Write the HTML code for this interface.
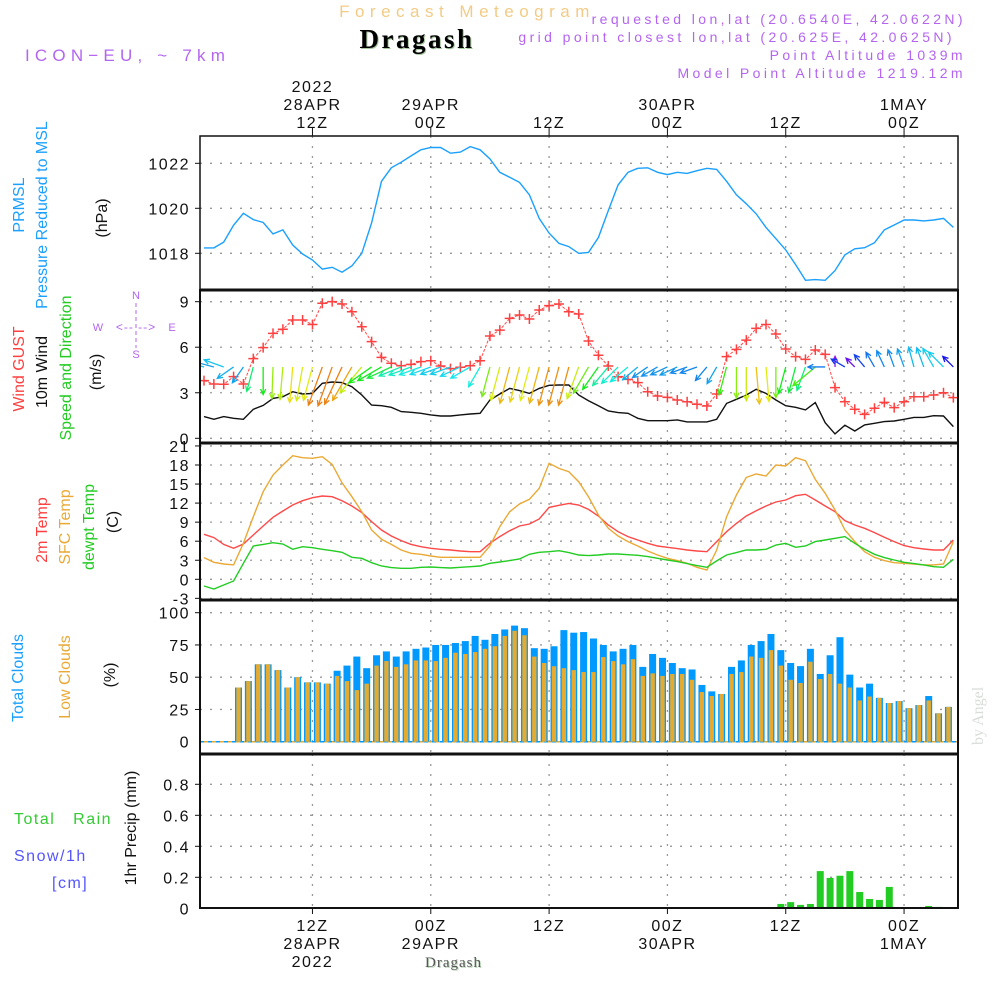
<!DOCTYPE html>
<html><head><meta charset="utf-8"><style>
html,body{margin:0;padding:0;background:#fff;}
svg{display:block;font-family:"Liberation Sans",sans-serif;}
.t{font-size:16px;fill:#111;letter-spacing:1.5px;}
</style></head><body>
<svg id="svg" width="1000" height="1000" viewBox="0 0 1000 1000" xmlns="http://www.w3.org/2000/svg">
<text x="467" y="17" text-anchor="middle" font-size="17" fill="#f3cb86" letter-spacing="5.5">Forecast Meteogram</text>
<text x="418" y="49" text-anchor="middle" font-size="27" font-weight="bold" font-family="Liberation Serif,serif" fill="#a8c8a0" letter-spacing="2.5">Dragash</text>
<text x="417" y="48" text-anchor="middle" font-size="27" font-weight="bold" font-family="Liberation Serif,serif" fill="#000" letter-spacing="2.5">Dragash</text>
<text x="25" y="61" font-size="17" fill="#b465f0" letter-spacing="5.2">ICON−EU, ~ 7km</text>
<g font-size="14" fill="#b465f0" text-anchor="end" letter-spacing="3.4">
<text x="966" y="24">requested lon,lat (20.6540E, 42.0622N)</text>
<text x="955" y="42">grid point closest lon,lat (20.625E, 42.0625N)</text>
<text x="966" y="60">Point Altitude 1039m</text>
<text x="966" y="78">Model Point Altitude 1219.12m</text>
</g>
<g id="grid"></g>
<g id="plots"></g>
<g id="frames"></g>
<g id="labels"></g>
<text transform="translate(983,745) rotate(-90)" font-size="16" font-family="Liberation Serif,serif" fill="#d8ddd8">by Angel</text>
</svg>
<script>
// ---- data (hourly from 01Z 28APR) ----
const pressure=[1018.24,1018.24,1018.5,1019.25,1019.78,1019.5,1019.37,1018.86,1019.04,1018.37,1017.97,1017.7,1017.3,1017.38,1017.16,1017.44,1018.0,1019.35,1021.2,1021.8,1022.05,1022.33,1022.6,1022.7,1022.7,1022.45,1022.5,1022.74,1022.6,1022.2,1021.6,1021.38,1021.15,1020.6,1019.55,1018.9,1018.44,1018.3,1018.0,1018.04,1018.7,1019.9,1021.04,1021.6,1021.78,1021.8,1021.6,1021.5,1021.6,1021.55,1021.67,1021.78,1021.73,1021.2,1020.6,1020.2,1019.75,1019.15,1018.65,1018.15,1017.5,1016.8,1016.83,1016.8,1017.23,1017.93,1018.2,1018.25,1018.47,1019.04,1019.26,1019.48,1019.48,1019.44,1019.48,1019.55,1019.15];
const gust=[3.8,3.58,3.56,4.06,3.58,5.25,5.97,6.91,7.18,7.79,7.79,7.5,8.9,9.0,8.85,8.34,7.35,6.37,5.33,4.94,4.78,4.87,5.05,5.11,4.76,4.59,4.68,4.78,5.11,6.74,7.13,7.9,8.12,7.86,8.45,8.74,8.85,8.34,8.19,6.41,5.47,4.76,4.06,3.88,3.67,3.07,2.79,2.7,2.52,2.41,2.24,2.13,2.92,5.38,5.86,6.47,7.24,7.5,6.87,5.88,5.38,5.2,5.82,5.53,3.34,2.41,1.91,1.58,1.98,2.37,2.02,2.41,2.74,2.74,2.85,3.0,2.68];
const wind10=[1.43,1.25,1.43,1.32,1.25,1.91,2.17,2.63,2.74,3.07,2.92,2.96,3.62,3.71,3.67,3.4,2.85,2.19,2.15,2.04,1.76,1.71,1.65,1.54,1.47,1.47,1.54,1.6,1.65,2.52,2.92,3.29,3.14,2.96,3.29,3.49,3.51,3.51,2.85,2.48,2.15,1.8,1.69,1.65,1.32,1.16,1.16,1.16,1.21,1.08,1.08,1.08,1.25,2.3,2.57,2.85,3.23,2.96,2.52,2.15,2.04,1.87,2.35,1.03,0.29,0.86,0.48,0.88,0.99,1.1,1.14,1.25,1.38,1.38,1.49,1.47,0.77];
const windFrom=[105,105,110,55,35,15,0,2,5,5,10,15,20,20,25,30,40,55,60,65,68,70,70,70,70,70,65,60,30,15,15,15,15,15,15,15,15,15,20,30,35,40,45,50,50,55,60,65,65,70,70,40,30,15,0,0,355,355,0,15,15,20,50,90,180,120,135,140,150,155,160,160,165,160,150,135,135];
const temp2m=[7.08,6.56,5.5,4.88,5.56,6.98,8.4,9.76,10.76,11.7,12.38,12.85,13.12,13.0,12.38,11.54,10.5,9.08,7.76,6.82,6.09,5.5,5.14,4.88,4.72,4.62,4.46,4.35,4.35,5.67,6.72,7.66,8.4,8.71,9.5,11.33,11.65,11.96,11.7,11.0,9.97,8.55,7.5,6.72,6.19,5.67,5.25,5.04,4.83,4.62,4.46,4.35,5.93,7.5,8.81,9.97,10.8,11.54,12.17,12.49,13.17,13.38,12.49,11.54,10.65,9.23,8.55,8.03,7.35,6.61,5.93,5.3,4.98,4.77,4.62,4.62,6.19];
const tempSfc=[3.41,2.68,2.41,2.26,5.67,9.86,13.8,16.42,18.0,19.46,19.15,19.05,19.3,18.1,15.2,13.0,10.65,7.76,6.3,5.5,4.62,4.09,3.93,3.67,3.46,3.46,3.46,3.46,3.46,5.25,8.29,10.65,11.86,12.6,14.32,18.26,17.47,16.95,15.37,13.0,10.13,8.03,6.82,5.93,5.25,4.46,3.83,3.31,2.94,2.52,1.89,1.47,4.62,9.86,13.27,16.05,16.58,16.26,18.0,17.84,19.15,18.68,15.74,13.54,10.91,7.76,5.93,4.35,3.46,2.94,2.62,2.52,2.41,2.26,2.26,2.41,5.93];
const dewpt=[-1.05,-1.52,-0.89,-0.26,2.52,5.25,5.5,5.77,5.56,4.72,5.14,4.98,4.72,4.51,4.25,3.46,3.31,2.62,2.1,1.84,1.73,1.73,1.89,1.94,1.84,1.78,1.89,1.99,2.1,2.52,2.73,2.94,3.2,3.93,4.25,4.35,4.51,4.2,3.83,3.73,3.83,3.99,3.99,3.88,3.78,3.57,3.31,3.04,2.78,2.47,2.15,1.89,2.89,3.83,4.2,4.62,4.62,4.72,5.4,5.67,5.04,5.25,5.93,6.19,6.45,6.72,5.67,4.72,3.93,3.41,3.04,2.68,2.47,2.26,1.99,1.89,3.15];
const cloudTotal=[0,0,0,0,42,47,60,60,55.5,42,50,46,46,45,55,59,66,57,67,70,66,70,72,73,75,75,76.5,78,82,79,83.5,87,90,88,72.5,72,74,86.5,84.5,85,80,75,70,72,75,58,68,65,61,57,56,44,39,37,58,63,75,78,83.5,71,61,58.6,72,52.5,67,81,52,42,45,34,30,31.5,26,28.4,35.4,22,27];
const cloudLow=[0,0,0,0,42,47,60,60,55.5,42,50,46,46,45,51,47,40,45,59,62.5,58,60,63,63,62.5,65,69,68,69.5,72,74,82,86,82.5,66,61,58.5,57,55.5,54,54,65.6,62.5,60,64,51,53,51,52.5,52.5,48,38.5,35.4,37,52.5,54,66,65,71,59,48,45.5,62,48.6,52.5,45,42,32,35,34,30,31.5,26,28.4,32,22,27];
const precip=[0,0,0,0,0,0,0,0,0,0,0,0,0,0,0,0,0,0,0,0,0,0,0,0,0,0,0,0,0,0,0,0,0,0,0,0,0,0,0,0,0,0,0,0,0,0,0,0,0,0,0,0,0,0,0,0,0,0,0,0.028,0.04,0.022,0.028,0.24,0.196,0.21,0.24,0.105,0.06,0.054,0.138,0,0,0,0.015,0.009,0];
const pTicks=[1022,1020,1018];
const wTicks=[9,6,3,0];
const tTicks=[21,18,15,12,9,6,3,0,-3];
const cTicks=[100,75,50,25,0];
const rTicks=[0.8,0.6,0.4,0.2,0];
const timeTicks=[11,23,35,47,59,71]; // hours since 01Z 28APR
const topLabels=[["2022","28APR","12Z"],["","29APR","00Z"],["","","12Z"],["","30APR","00Z"],["","","12Z"],["","1MAY","00Z"]];
const botLabels=[["12Z","28APR","2022"],["00Z","29APR",""],["12Z","",""],["00Z","30APR",""],["12Z","",""],["00Z","1MAY",""]];

// ---- scales ----
const L=200,R=958;
const x=h=>204+h*9.86;
const yP=v=>163.3+(1022-v)*22.5;
const yW=v=>438.3-v*15.18;
const yT=v=>579.3-v*6.35;
const yC=v=>741.7-v*1.29;
const yR=v=>908.3-v*155;
const panels=[[136,290],[290,443],[443,600],[600,754],[754,908]];
const NS="http://www.w3.org/2000/svg";
function mk(parent,tag,attrs){const e=document.createElementNS(NS,tag);for(const k in attrs)e.setAttribute(k,attrs[k]);parent.appendChild(e);return e;}
const G=document.getElementById('grid'),P=document.getElementById('plots'),F=document.getElementById('frames'),Lb=document.getElementById('labels');

const defs=mk(document.getElementById('svg'),'defs',{});
const cp=mk(defs,'clipPath',{id:'clip'});mk(cp,'rect',{x:L,y:136,width:R-L,height:772});
P.setAttribute('clip-path','url(#clip)');

function hgrid(vals,f,name){vals.forEach(v=>{const l=mk(G,'line',{x1:L,x2:R,y1:f(v),y2:f(v),stroke:'#999','stroke-width':1.3,'stroke-dasharray':'2,8'});


const tx=mk(Lb,'text',{x:190,y:f(v)+6,'text-anchor':'end',class:'t'});tx.textContent=v;


mk(Lb,'line',{x1:L-5,x2:L,y1:f(v),y2:f(v),stroke:'#111'});});}
hgrid(pTicks,yP,'pressure');hgrid(wTicks,yW,'wind');hgrid(tTicks,yT,'temp');hgrid(cTicks.slice(0,4),yC,'cloud');hgrid(rTicks.slice(0,4),yR,'precip');
[[0,yC,'cloud'],[0,yR,'precip']].forEach(a=>{const tx=mk(Lb,'text',{x:190,y:a[1](0)+6,'text-anchor':'end',class:'t'});tx.textContent='0';

});
timeTicks.forEach((h,i)=>{panels.forEach(p=>{const l=mk(G,'line',{x1:x(h),x2:x(h),y1:p[0],y2:p[1],stroke:'#999','stroke-width':1.3,'stroke-dasharray':'2,8'});

});
mk(F,'line',{x1:x(h),x2:x(h),y1:128,y2:136,stroke:'#111'});
mk(F,'line',{x1:x(h),x2:x(h),y1:908,y2:914,stroke:'#111'});
topLabels[i].forEach((s,j)=>{if(!s)return;const t=mk(Lb,'text',{x:x(h),y:92+j*18,'text-anchor':'middle',class:'t'});t.textContent=s;

});
botLabels[i].forEach((s,j)=>{if(!s)return;const t=mk(Lb,'text',{x:x(h),y:931+j*18,'text-anchor':'middle',class:'t'});t.textContent=s;

});});

function line(arr,fy,color,name,w){const pts=arr.map((v,i)=>x(i).toFixed(1)+','+fy(v).toFixed(1)).join(' ');
const pl=mk(P,'polyline',{points:pts,fill:'none',stroke:color,'stroke-width':w||1.4});

return pl;}
line(pressure,yP,'#1aa0ff','pressure-line');
line(wind10,yW,'#111','wind10m-line');
line(gust,yW,'#ff4848','gust-line',1).setAttribute('stroke-dasharray','3,1.5');
gust.forEach((v,i)=>{const cx=x(i),cy=yW(v);const g=mk(P,'path',{d:`M${cx-5},${cy}H${cx+5}M${cx},${cy-5}V${cy+5}`,stroke:'#ff4040','stroke-width':1.5});

});
function spdColor(s){const st=[[0.3,275],[0.7,250],[1.0,212],[1.3,198],[1.6,182],[2.0,135],[2.6,85],[3.1,55],[3.6,30]];
let h=st[0][1];if(s>=st[st.length-1][0])h=st[st.length-1][1];else for(let k=0;k<st.length-1;k++){if(s>=st[k][0]&&s<st[k+1][0]){const f=(s-st[k][0])/(st[k+1][0]-st[k][0]);h=st[k][1]+f*(st[k+1][1]-st[k][1]);}}
return `hsl(${h},85%,50%)`;}
const baseY=yW(4.7);
wind10.forEach((s,i)=>{const to=(windFrom[i]+180)*Math.PI/180,Ln=8+9*s;const x0=x(i),x1=x0+Math.sin(to)*Ln,y1=baseY-Math.cos(to)*Ln;
const a=Math.atan2(y1-baseY,x1-x0),hl=6;
const d=`M${x0},${baseY}L${x1},${y1}M${x1-hl*Math.cos(a-0.45)},${y1-hl*Math.sin(a-0.45)}L${x1},${y1}L${x1-hl*Math.cos(a+0.45)},${y1-hl*Math.sin(a+0.45)}`;
const ar=mk(P,'path',{d:d,fill:'none',stroke:spdColor(s),'stroke-width':1.3});

});
line(temp2m,yT,'#ff4848','temp2m-line');
line(tempSfc,yT,'#eaa935','sfc-temp-line');
line(dewpt,yT,'#22cc22','dewpoint-line');
mk(P,'line',{x1:L,x2:R,y1:yC(0),y2:yC(0),stroke:'#0099ff','stroke-width':1.5,'stroke-dasharray':'4,4'});
mk(P,'line',{x1:L+4,x2:R,y1:yC(0),y2:yC(0),stroke:'#e6aa2e','stroke-width':1.5,'stroke-dasharray':'4,4'});
cloudTotal.forEach((v,i)=>{if(!v)return;const cx=x(i-0.5);
const b=mk(P,'rect',{x:cx-3.5,y:yC(v),width:7,height:yC(0)-yC(v),fill:'#0099ff'});


const lv=cloudLow[i];const o=mk(P,'rect',{x:cx-2.2,y:yC(lv),width:4.4,height:yC(0)-yC(lv),fill:'#e6aa2e'});

});
precip.forEach((v,i)=>{if(!v)return;const cx=x(i-0.5);const b=mk(P,'rect',{x:cx-3.5,y:yR(v),width:7,height:yR(0)-yR(v),fill:'#22cc22'});

});
mk(P,'line',{x1:L,x2:R,y1:yR(0),y2:yR(0),stroke:'#111','stroke-width':1.5,'stroke-dasharray':'5,2'});
panels.forEach((p,i)=>{const r=mk(F,'rect',{x:L,y:p[0],width:R-L,height:p[1]-p[0],fill:'none',stroke:'#111','stroke-width':i==0?1.5:2});

});
[290,443,600,754].forEach(y=>mk(F,'line',{x1:L,x2:R,y1:y,y2:y,stroke:'#111','stroke-width':3}));
</script>
<svg style="position:absolute;left:0;top:0" width="200" height="1000">
<g font-family="Liberation Sans,sans-serif" font-size="16">
<text transform="translate(24,205) rotate(-90)" text-anchor="middle" fill="#1aa0ff">PRMSL</text>
<text transform="translate(47,215) rotate(-90)" text-anchor="middle" fill="#1aa0ff">Pressure Reduced to MSL</text>
<text transform="translate(107,218) rotate(-90)" text-anchor="middle" fill="#111">(hPa)</text>
<text transform="translate(24,369) rotate(-90)" text-anchor="middle" fill="#ff4040">Wind GUST</text>
<text transform="translate(47,372) rotate(-90)" text-anchor="middle" fill="#111">10m Wind</text>
<text transform="translate(71,368) rotate(-90)" text-anchor="middle" fill="#22cc22">Speed and Direction</text>
<text transform="translate(101,372) rotate(-90)" text-anchor="middle" fill="#111">(m/s)</text>
<g fill="#b465f0" font-size="11" text-anchor="middle">
<text x="136" y="299">N</text><text x="136" y="358">S</text><text x="98" y="331">W</text><text x="172" y="331">E</text>
<text x="136" y="331" font-size="12" letter-spacing="1">&lt;-- --&gt;</text>
<line x1="136" y1="303" x2="136" y2="348" stroke="#b465f0" stroke-dasharray="4,3"/></g>
<text transform="translate(47,530) rotate(-90)" text-anchor="middle" fill="#ff4040">2m Temp</text>
<text transform="translate(70,527) rotate(-90)" text-anchor="middle" fill="#eaa935">SFC Temp</text>
<text transform="translate(94,527) rotate(-90)" text-anchor="middle" fill="#22cc22">dewpt Temp</text>
<text transform="translate(118,522) rotate(-90)" text-anchor="middle" fill="#111">(C)</text>
<text transform="translate(23,678) rotate(-90)" text-anchor="middle" fill="#1aa0ff">Total Clouds</text>
<text transform="translate(70,677) rotate(-90)" text-anchor="middle" fill="#eaa935">Low Clouds</text>
<text transform="translate(115,675) rotate(-90)" text-anchor="middle" fill="#111">(%)</text>
<text x="14" y="824" fill="#33cc33" letter-spacing="1.5" xml:space="preserve">Total   Rain</text>
<text x="14" y="861" fill="#5555ff" letter-spacing="1.5">Snow/1h</text>
<text x="52" y="888" fill="#5555ff" letter-spacing="1.5">[cm]</text>
<text transform="translate(136,828) rotate(-90)" text-anchor="middle" fill="#111">1hr Precip (mm)</text>
</g></svg>
<div style="position:absolute;left:425px;top:955px;font:15px 'Liberation Serif',serif;color:#555;letter-spacing:1px;text-shadow:1px 1px 0 #bcd8bc">Dragash</div>
</body></html>
